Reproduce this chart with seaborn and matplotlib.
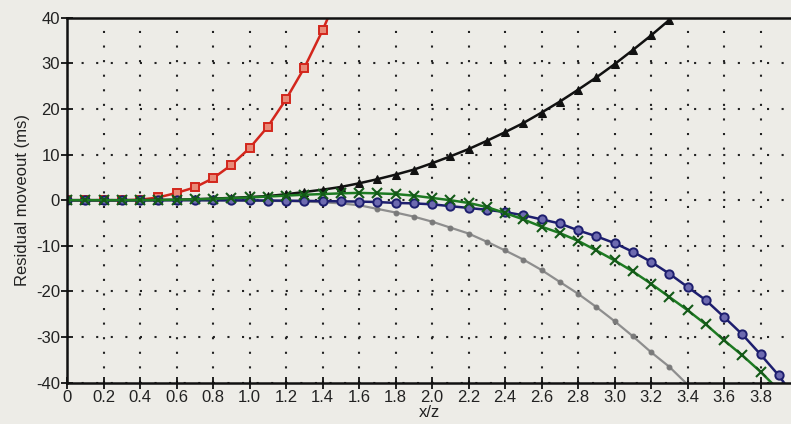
import numpy as np
import pandas as pd
import matplotlib
matplotlib.use("Agg")
import matplotlib.pyplot as plt
import matplotlib.ticker as mticker
import seaborn as sns

# Offset ratio x/z sampled every 0.1
x_red = [0.0, 0.1, 0.2, 0.3, 0.4, 0.5, 0.6, 0.7, 0.8, 0.9, 1.0, 1.1, 1.2, 1.3, 1.4, 1.5]
y_red = [0.0, 0.0, 0.0, 0.0, 0.1, 0.6, 1.6, 2.8, 4.8, 7.7, 11.4, 16.1, 22.1, 29.0, 37.2, 46.5]

x_black = [round(0.1 * i, 1) for i in range(34)]
y_black = [0.0, 0.0, 0.0, 0.0, 0.0, 0.05, 0.1, 0.2, 0.35, 0.5, 0.7, 0.9, 1.3, 1.8,
           2.3, 2.9, 3.7, 4.6, 5.6, 6.7, 8.1, 9.6, 11.2, 13.0, 14.9, 16.9, 19.2,
           21.6, 24.2, 26.9, 29.8, 32.9, 36.1, 39.5]

x_green = [round(0.1 * i, 1) for i in range(40)]
y_green = [0.0, 0.0, 0.0, 0.0, 0.0, 0.05, 0.1, 0.2, 0.3, 0.45, 0.6, 0.8, 1.0, 1.2,
           1.35, 1.5, 1.6, 1.5, 1.35, 1.0, 0.5, 0.0, -0.6, -1.5, -2.8, -4.2, -5.8,
           -7.2, -8.9, -11.0, -13.2, -15.6, -18.3, -21.2, -24.1, -27.2, -30.7,
           -34.0, -37.6, -41.6]

x_navy = [round(0.1 * i, 1) for i in range(41)]
y_navy = [0.0, 0.0, 0.0, 0.0, 0.0, 0.0, 0.0, 0.0, -0.02, -0.03, -0.05, -0.07, -0.1,
          -0.15, -0.2, -0.25, -0.3, -0.4, -0.6, -0.7, -0.9, -1.3, -1.7, -2.1, -2.6,
          -3.3, -4.2, -5.1, -6.6, -7.9, -9.4, -11.3, -13.5, -16.1, -19.0, -21.9,
          -25.6, -29.4, -33.8, -38.4, -44.0]

x_gray = [round(0.1 * i, 1) for i in range(36)]
y_gray = [0.0, 0.0, 0.0, 0.0, 0.0, 0.0, 0.0, -0.02, -0.04, -0.07, -0.1, -0.15, -0.2,
          -0.3, -0.45, -0.7, -1.1, -1.9, -2.7, -3.6, -4.7, -6.0, -7.3, -9.1, -11.0,
          -13.0, -15.3, -17.9, -20.5, -23.4, -26.5, -29.8, -33.3, -36.5, -40.4, -44.5]

x_ticks = [round(0.2 * i, 1) for i in range(20)]
y_ticks = [-40, -30, -20, -10, 0, 10, 20, 30, 40]

bg = "#edece7"
sns.set_theme(style="white")
plt.rcParams["font.family"] = ["Liberation Sans", "DejaVu Sans"]

fig = plt.figure(figsize=(7.91, 4.24), dpi=100, facecolor=bg)
ax = fig.add_axes([67 / 791, 1 - 382.7 / 424, 1 - 67 / 791, (382.7 - 17.7) / 424])
ax.set_facecolor(bg)

# Red curve sits underneath; the flatter curves are drawn over it near zero
series = [
    (x_red, y_red, dict(color="#d3261c", marker="s", markersize=6,
                        markerfacecolor="#e88a78", markeredgecolor="#d3261c",
                        markeredgewidth=1.4, lw=1.8)),
    (x_gray, y_gray, dict(color="#8e8e8e", marker="o", markersize=3.5,
                          markerfacecolor="#7a7a7a", markeredgecolor="#7a7a7a", lw=1.6)),
    (x_black, y_black, dict(color="#111111", marker="^", markersize=5.5,
                            markerfacecolor="#111111", markeredgecolor="#111111", lw=1.8)),
    (x_navy, y_navy, dict(color="#1d1e6e", marker="o", markersize=6,
                          markerfacecolor="#6d6ab0", markeredgecolor="#1d1e6e",
                          markeredgewidth=1.4, lw=1.8)),
    (x_green, y_green, dict(color="#1d7a22", marker="x", markersize=6.5,
                            markeredgecolor="#145a18", markeredgewidth=1.5, lw=1.8)),
]

for xs, ys, style in series:
    df = pd.DataFrame({"x/z": xs, "moveout": ys})
    sns.lineplot(data=df, x="x/z", y="moveout", ax=ax, legend=False, **style)

ax.set_xlim(0, (791 - 67) / 182.5)
ax.set_ylim(-40, 40)
ax.set_xticks(x_ticks)
ax.set_yticks(y_ticks)
ax.xaxis.set_major_formatter(mticker.FuncFormatter(lambda v, p: "0" if v == 0 else f"{v:.1f}"))
ax.yaxis.set_major_formatter(mticker.FuncFormatter(lambda v, p: f"{int(round(v))}"))

ax.grid(True, color="#222222", linestyle=(0, (1, 6)), linewidth=1.5)
ax.set_axisbelow(True)

for side in ("left", "bottom", "top"):
    ax.spines[side].set_visible(True)
    ax.spines[side].set_color("#111111")
    ax.spines[side].set_linewidth(1.8)
ax.spines["right"].set_visible(False)

ax.tick_params(axis="both", direction="inout", length=8, width=1.3, color="#111111",
               labelsize=12, labelcolor="#222222", pad=1, left=True, bottom=True)

ax.set_xlabel("x/z", fontsize=12, color="#222222", labelpad=0)
ax.set_ylabel("Residual moveout (ms)", fontsize=12, color="#222222", labelpad=4)

fig.savefig("out.png", dpi=100, facecolor=bg)
